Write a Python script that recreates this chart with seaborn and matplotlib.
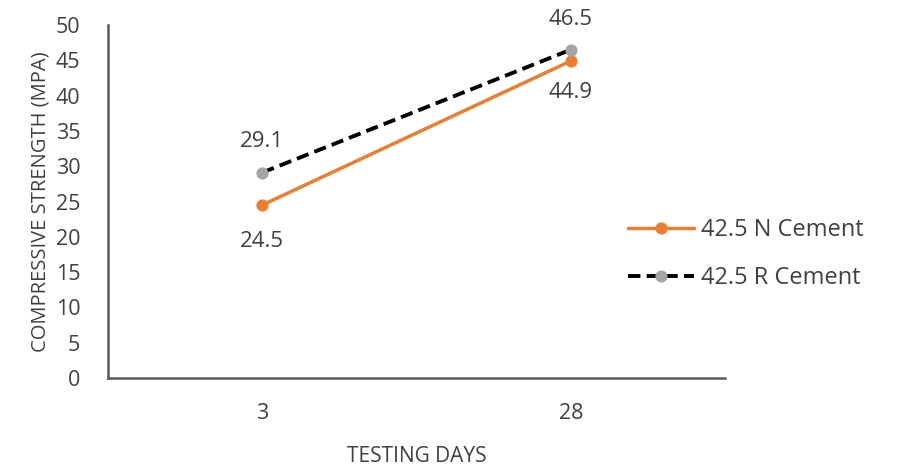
import matplotlib
matplotlib.use("Agg")
import matplotlib.pyplot as plt
import seaborn as sns
import pandas as pd

days = ["3", "28"]
n_cement = [24.5, 44.9]
r_cement = [29.1, 46.5]
series_names = ["42.5 N Cement", "42.5 R Cement"]
yticks = [0, 5, 10, 15, 20, 25, 30, 35, 40, 45, 50]

sns.set_theme(style="white")
plt.rcParams['font.family'] = ['Open Sans', 'DejaVu Sans']

fig = plt.figure(figsize=(9.01, 4.67), dpi=100)
ax = fig.add_axes([108/901, 1-378/467, (725-108)/901, (378-25)/467])

df_n = pd.DataFrame({"day": days, "val": n_cement})
df_r = pd.DataFrame({"day": days, "val": r_cement})

sns.lineplot(data=df_n, x="day", y="val", ax=ax, color="#ED7D31", lw=2.5,
             marker="o", markersize=8, markeredgecolor="#ED7D31",
             markerfacecolor="#ED7D31", label=series_names[0])
sns.lineplot(data=df_r, x="day", y="val", ax=ax, color="black", lw=2.8,
             linestyle=(0, (3.2, 1.6)), marker="o", markersize=8,
             markeredgecolor="#A5A5A5", markerfacecolor="#A5A5A5",
             label=series_names[1])

txt = "#404040"
below_offsets = [-26, -23]
for i, v in enumerate(n_cement):
    ax.annotate(f"{v}", (i, v), xytext=(0, below_offsets[i]), textcoords="offset points",
                ha="center", va="center", fontsize=16, color=txt)
for i, v in enumerate(r_cement):
    ax.annotate(f"{v}", (i, v), xytext=(0, 22), textcoords="offset points",
                ha="center", va="center", fontsize=16, color=txt)

ax.set_xlim(-0.5, 1.5)
ax.set_ylim(0, 50)
ax.set_yticks(yticks)
ax.set_yticklabels([str(t) for t in yticks])
ax.tick_params(axis="both", length=0, labelsize=15.5, colors=txt)
ax.tick_params(axis="x", pad=18)
ax.tick_params(axis="y", pad=20)

for s in ["top", "right"]:
    ax.spines[s].set_visible(False)
for s in ["left", "bottom"]:
    ax.spines[s].set_color("#595959")
    ax.spines[s].set_linewidth(1.8)

ax.set_xlabel("TESTING DAYS", fontsize=15, color=txt, labelpad=16)
ax.set_ylabel("COMPRESSIVE STRENGTH (MPA)", fontsize=14.5, color=txt, labelpad=4)
ax.grid(False)

leg = ax.legend(loc="center left", bbox_to_anchor=(628/901, 1-254/467),
                bbox_transform=fig.transFigure, frameon=False, fontsize=17,
                handlelength=2.8, handletextpad=0.3, labelspacing=1.0,
                labelcolor=txt, borderaxespad=0, borderpad=0)

fig.savefig("out.png", dpi=100)
